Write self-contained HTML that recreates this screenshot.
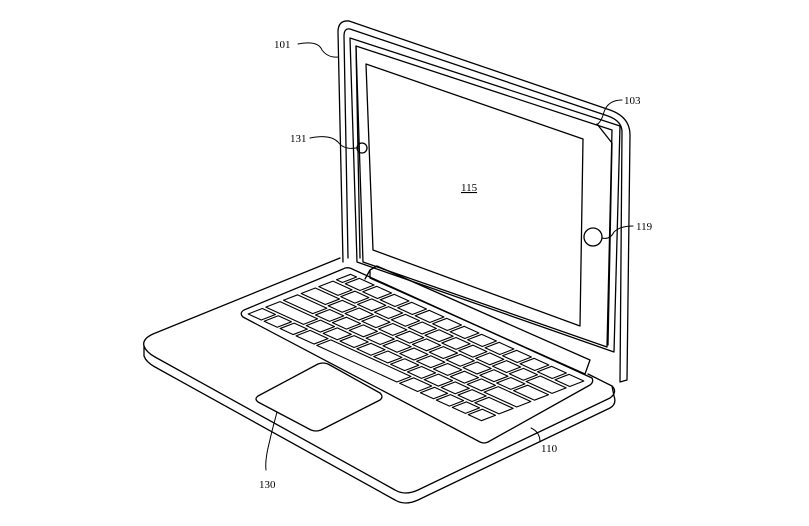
<!DOCTYPE html>
<html><head><meta charset="utf-8"><style>
html,body{margin:0;padding:0;background:#fff;}
svg{display:block}
text{font-family:"Liberation Serif",serif;font-size:11px;fill:#000}
</style></head><body>
<svg id="s" width="809" height="526" viewBox="0 0 809 526" xmlns="http://www.w3.org/2000/svg">
<g fill="none" stroke="#000" stroke-width="1.3" stroke-linejoin="round" stroke-linecap="round">
<path d="M349,21 L610,110 Q630,117 630,135 L627,380 L620,382 L622,132 Q622,121 608,116 L350,29 Q344,28 344,36 L348,258" />
<path d="M349,21 Q338,20 338,32 L343,262"/>
<path d="M350,38 L620,126 L614,352 L357,262 Z"/>
<path d="M356,46 L612,130 L607,347 L363,262 Z"/>
<path d="M356,46 L360,258"/>
<path d="M597,124 L612,143 L608,345"/>
<path d="M366,64 L583,139 L580,326 L373,250 Z"/>
<circle cx="362" cy="148" r="5"/>
<circle cx="593" cy="237" r="9"/>
<path d="M340,258 L153,334 Q142,339 144,346 Q146,352 155,357 L395,490 Q405,496 418,490 L610,398 Q618,392 612,386 L588,374"/>
<path d="M144,346 L144,356 Q146,362 155,367 L395,500 Q405,506 418,500 L610,408 Q617,404 614,396 L612,386"/>
<path d="M370,270 L377,266 L590,360 L585,374 L370,278 Z"/>
<path d="M365,279 L370,270"/>
<path d="M350,268 L592,378 Q594,382 590,385 L488,442 Q484,444 480,442 L243,317 Q239,313 244,310 L343,269 Q346,267 350,268 Z"/>
<path d="M258,396 L318,364 Q323,362 328,364 L380,393 Q384,397 380,400 L321,430 Q316,432 311,430 L258,402 Q254,399 258,396 Z"/>
<g id="keys" stroke-width="1.1"></g>
<path d="M298,44 Q318,40 322,50 Q328,58 338,57" stroke-width="1"/>
<path d="M310,138 Q330,134 338,142 Q344,150 356,148" stroke-width="1"/>
<path d="M622,100 Q608,100 604,112 Q602,120 598,124" stroke-width="1"/>
<path d="M633,226 Q620,226 614,232 Q610,240 602,238" stroke-width="1"/>
<path d="M531,428 Q540,432 540,442" stroke-width="1"/>
<path d="M277,412 Q272,430 268,448 Q265,462 266,470" stroke-width="1"/>
</g>
<text x="274" y="48">101</text>
<text x="624" y="104">103</text>
<text x="290" y="142">131</text>
<text x="461" y="191" text-decoration="underline">115</text>
<text x="636" y="230">119</text>
<text x="541" y="452">110</text>
<text x="259" y="488">130</text>
</svg>
<script>
(function(){
var g=document.getElementById('keys');
var A=[351,273],U=[236/13.5,108/13.5],V=[-106/6,41/6];
function P(u,v){return [A[0]+U[0]*u+V[0]*v,A[1]+U[1]*u+V[1]*v];}
var rows=[[0.5,1,1,1,1,1,1,1,1,1,1,1,1,1],[1.3,1,1,1,1,1,1,1,1,1,1,1,1.7],[1.6,1,1,1,1,1,1,1,1,1,1,1,1.4],[1.9,1,1,1,1,1,1,1,1,1,1,2.1],[2.4,1,1,1,1,1,1,1,1,1,1,1.6],[1,1,1,1.3,5.2,1.3,1,1,1,1]];
var h='';
rows.forEach(function(r,vi){
  var sum=r.reduce(function(a,b){return a+b},0),sc=13.5/sum,u=0;
  r.forEach(function(w){
    w*=sc;var m=0.08,mv=0.1;
    var a=P(u+m,vi+mv),b=P(u+w-m,vi+mv),c=P(u+w-m,vi+1-mv),d=P(u+m,vi+1-mv);
    h+='<path d="M'+a+' L'+b+' L'+c+' L'+d+' Z"/>';
    u+=w;
  });
});
g.innerHTML=h;
})();
</script>
</body></html>
